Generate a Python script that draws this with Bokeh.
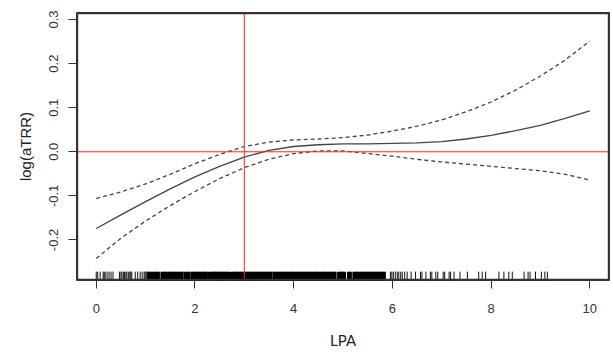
from bokeh.plotting import figure
from bokeh.models import (Span, FixedTicker, Range1d, ColumnDataSource,
                          PrintfTickFormatter)
from bokeh.embed import file_html
from bokeh.resources import INLINE

# Spline fit: x grid, estimate, confidence bounds
lpa = [0, 0.5, 1, 1.5, 2, 2.5, 3, 3.5, 4, 4.5, 5, 5.5, 6, 6.5, 7, 7.5, 8, 8.5, 9, 9.5, 10]
fit = [-0.174, -0.143, -0.113, -0.084, -0.057, -0.033, -0.012, 0.003, 0.012, 0.016, 0.018,
       0.018, 0.019, 0.020, 0.023, 0.029, 0.037, 0.048, 0.060, 0.076, 0.093]
upper = [-0.106, -0.091, -0.073, -0.051, -0.027, -0.006, 0.012, 0.022, 0.027, 0.029, 0.032,
         0.038, 0.047, 0.058, 0.072, 0.091, 0.113, 0.140, 0.172, 0.208, 0.251]
lower = [-0.242, -0.196, -0.157, -0.122, -0.090, -0.061, -0.036, -0.017, -0.004, 0.002, 0.002,
         -0.004, -0.010, -0.017, -0.023, -0.028, -0.033, -0.038, -0.043, -0.051, -0.064]

# Rug of observed LPA values (sparse, individually visible ticks)
rug_sparse = [0.0, 0.03, 0.08, 0.14, 0.16, 0.18, 0.22, 0.26, 0.30, 0.34, 0.47, 0.50, 0.52,
              0.55, 0.57, 0.60, 0.62, 0.65, 0.68, 0.70, 0.72, 0.79, 0.84, 0.89, 0.93, 0.97,
              0.99, 1.01, 1.03,
              5.86, 5.96, 5.99, 6.02, 6.06, 6.10, 6.13, 6.17, 6.20, 6.25, 6.30, 6.38, 6.47,
              6.57, 6.60, 6.68, 6.77, 6.80, 6.88, 6.92, 7.03, 7.06, 7.15, 7.18, 7.25, 7.37,
              7.52, 7.75, 7.82, 7.89, 8.16, 8.26, 8.36, 8.43, 8.67, 8.75, 8.79, 8.90, 9.02,
              9.09, 9.14]
# Rug, dense part (ticks close enough to merge into a block)
rug_dense = [1.06, 1.10, 1.14, 1.18, 1.22, 1.26,
             1.33, 1.37, 1.41, 1.45, 1.49, 1.53, 1.57, 1.62, 1.66, 1.70, 1.74,
             1.80, 1.84, 1.88, 1.94, 1.98, 2.02, 2.07, 2.11, 2.15, 2.19, 2.23, 2.28, 2.33,
             2.37, 2.41, 2.44, 2.48, 2.52, 2.56, 2.60, 2.64, 2.68, 2.74, 2.78, 2.82, 2.86,
             2.90, 2.94, 2.98, 3.02,
             3.06, 3.10, 3.14, 3.18, 3.22, 3.26, 3.30, 3.34, 3.38, 3.42, 3.46, 3.50, 3.54,
             3.60, 3.64, 3.68, 3.72, 3.76, 3.80, 3.84, 3.88, 3.92, 3.96, 4.00, 4.04, 4.08,
             4.12, 4.16, 4.20, 4.24, 4.28, 4.32, 4.36, 4.40, 4.44, 4.48, 4.52, 4.56, 4.60,
             4.64, 4.68, 4.72, 4.76, 4.80, 4.84, 4.91, 4.95, 4.99, 5.03, 5.11, 5.15, 5.22,
             5.26, 5.30, 5.34, 5.38, 5.42, 5.46, 5.51, 5.55, 5.59, 5.63, 5.67, 5.71, 5.75,
             5.79, 5.82]

x_ticks = [0, 2, 4, 6, 8, 10]
y_ticks = [-0.2, -0.1, 0.0, 0.1, 0.2, 0.3]
x_label = "LPA"
y_label = "log(aTRR)"
ref_x = 3
ref_y = 0

XMIN, XMAX = -0.4, 10.4
YMIN, YMAX = -0.292, 0.316
BOX = "#333333"

p = figure(width=612, height=352, output_backend="svg", toolbar_location=None,
           x_range=Range1d(XMIN, XMAX), y_range=Range1d(YMIN, YMAX),
           min_border_left=76, min_border_top=12, min_border_right=3, min_border_bottom=72)
p.background_fill_color = "white"
p.border_fill_color = "white"
p.xgrid.visible = False
p.ygrid.visible = False
p.outline_line_color = BOX
p.outline_line_width = 1

src = ColumnDataSource(dict(x=lpa, fit=fit, upper=upper, lower=lower))
p.line("x", "fit", source=src, line_color="#444444", line_width=1.3)
p.line("x", "upper", source=src, line_color="#444444", line_width=1.3, line_dash="4 3")
p.line("x", "lower", source=src, line_color="#444444", line_width=1.3, line_dash="4 3")

rug_len = (YMAX - YMIN) * 0.033
p.segment(x0=rug_sparse, y0=[YMIN] * len(rug_sparse), x1=rug_sparse,
          y1=[YMIN + rug_len] * len(rug_sparse), line_color="#111111", line_width=1)
p.segment(x0=rug_dense, y0=[YMIN] * len(rug_dense), x1=rug_dense,
          y1=[YMIN + rug_len] * len(rug_dense), line_color="#000000", line_width=3)

p.add_layout(Span(location=ref_x, dimension="height", line_color="#ff2020", line_width=1))
p.add_layout(Span(location=ref_y, dimension="width", line_color="#ff2020", line_width=1))

# plot box as four spans placed just inside the frame edges
dx = (XMAX - XMIN) / 533 * 1.0
dy = (YMAX - YMIN) / 268 * 1.0
for loc, dim in ((XMIN + dx, "height"), (XMAX - dx, "height"),
                 (YMIN + dy, "width"), (YMAX - dy, "width")):
    p.add_layout(Span(location=loc, dimension=dim, line_color=BOX, line_width=1.4))

for ax in (p.xaxis[0], p.yaxis[0]):
    ax.axis_line_color = None
    ax.major_tick_line_color = BOX
    ax.major_tick_out = 8
    ax.major_tick_in = 0
    ax.minor_tick_line_color = None
    ax.major_label_text_font = "Liberation Sans"
    ax.major_label_text_font_size = "13px"
    ax.major_label_text_color = "#333333"
    ax.axis_label_text_font_style = "normal"
    ax.axis_label_text_color = "#222222"

p.xaxis[0].ticker = FixedTicker(ticks=x_ticks)
p.yaxis[0].ticker = FixedTicker(ticks=y_ticks)
p.yaxis[0].formatter = PrintfTickFormatter(format="%.1f")
p.xaxis[0].major_label_standoff = 15
p.yaxis[0].major_label_standoff = 10
p.yaxis[0].major_label_orientation = "vertical"
p.xaxis[0].axis_label = x_label
p.xaxis[0].axis_label_text_font = "Lato"
p.xaxis[0].axis_label_text_font_size = "15px"
p.xaxis[0].axis_label_standoff = 15
p.yaxis[0].axis_label = y_label
p.yaxis[0].axis_label_text_font = "Liberation Sans"
p.yaxis[0].axis_label_text_font_size = "15px"
p.yaxis[0].axis_label_standoff = 13

open("out.html", "w").write(file_html(p, INLINE))
